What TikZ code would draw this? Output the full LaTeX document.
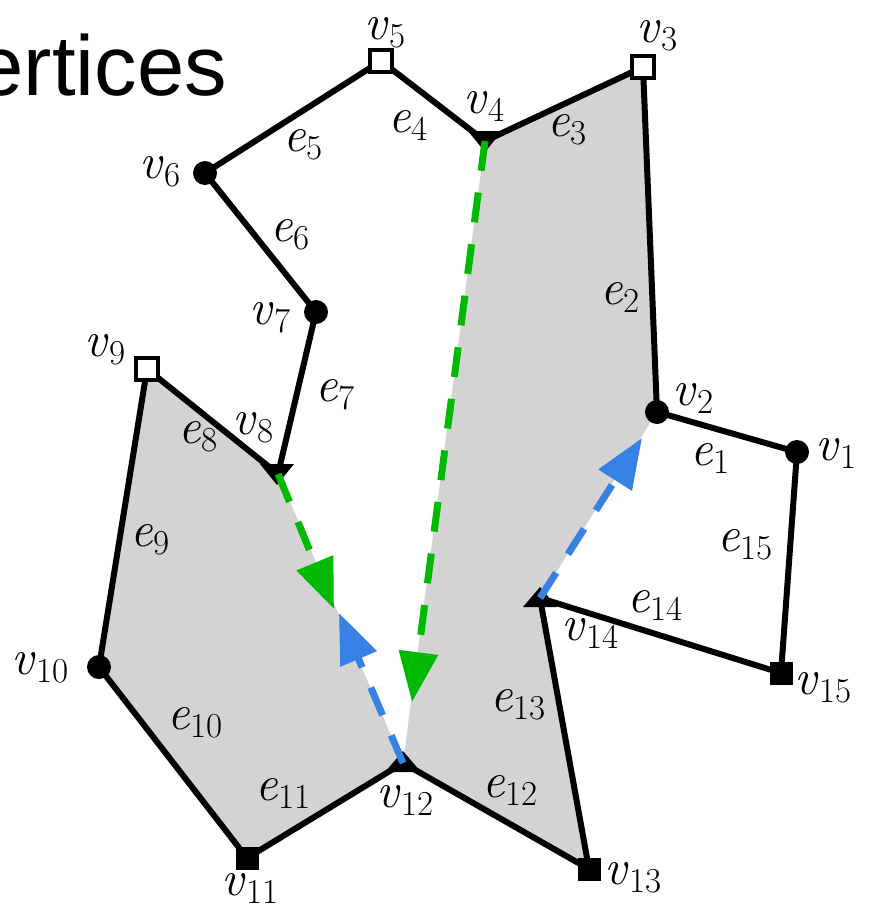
\documentclass[tikz,border=0pt]{standalone}
\usepackage{fontspec}
\newfontfamily\sansf{Liberation Sans}
\usetikzlibrary{arrows.meta}
\definecolor{regiongray}{RGB}{211,211,211}
\definecolor{arrgreen}{RGB}{0,185,0}
\definecolor{arrblue}{RGB}{55,128,228}
\newcommand\lbl[2]{\textit{#1}\kern1pt\raisebox{-8pt}{\fontsize{35}{35}\selectfont #2}}
\tikzset{
  region/.style={fill=regiongray},
  edgeline/.style={line width=6pt, line join=round, line cap=round},
  dotm/.style={circle, fill=black, minimum size=24pt, inner sep=0pt},
  opensq/.style={rectangle, draw=black, line width=4pt, fill=white, minimum size=22pt, inner sep=0pt},
  fillsq/.style={rectangle, fill=black, minimum size=23pt, inner sep=0pt},
  lab/.style={font=\fontsize{50}{50}\selectfont, inner sep=0pt},
  flow/.style={line width=7pt, dash pattern=on 30pt off 22pt, -{Triangle[length=50pt,width=38pt]}},
}
\begin{document}
\begin{tikzpicture}[x=1pt,y=-1pt]
\useasboundingbox (0,0) rectangle (872,916);
% vertices
\coordinate (v1) at (797,452);
\coordinate (v2) at (657,412);
\coordinate (v3) at (643,67);
\coordinate (v4) at (485,141);
\coordinate (v5) at (381,61);
\coordinate (v6) at (205,173);
\coordinate (v7) at (316,312);
\coordinate (v8) at (278,474);
\coordinate (v9) at (147,369);
\coordinate (v10) at (99,667);
\coordinate (v11) at (247,858);
\coordinate (v12) at (403,763);
\coordinate (v13) at (589,869);
\coordinate (v14) at (540,598);
\coordinate (v15) at (781,673);
% arrow tips
\coordinate (ga) at (412,702);
\coordinate (gb) at (334,609);
\coordinate (ba) at (339,613);
\coordinate (bb) at (642,438);

% title fragment
\node[font=\sansf\fontsize{85}{85}\selectfont, anchor=base east, inner sep=0pt] (title) at (227,95) {ertices};

% shaded regions
\fill[region] (v9) -- (v8) -- (v12) -- (v11) -- (v10) -- cycle;
\fill[region] (v4) -- (v3) -- (v2) -- (v14) -- (v13) -- (v12) -- cycle;

% polygon edges
\draw[edgeline] (v1) -- (v2) -- (v3) -- (v4) -- (v5) -- (v6) -- (v7) -- (v8) -- (v9) -- (v10) -- (v11) -- (v12) -- (v13) -- (v14) -- (v15) -- cycle;

% markers
\node[dotm] (m1) at (v1) {};
\node[dotm] (m2) at (v2) {};
\node[opensq] (m3) at (v3) {};
\node[opensq] (m5) at (v5) {};
\node[dotm] (m6) at (v6) {};
\node[dotm] (m7) at (v7) {};
\node[opensq] (m9) at (v9) {};
\node[dotm] (m10) at (v10) {};
\node[fillsq] (m11) at (v11) {};
\node[fillsq] (m13) at (v13) {};
\node[fillsq] (m15) at (v15) {};
\fill (v4) ++(0,11) -- ++(17,-21) -- ++(-34,0) -- cycle;
\fill (v8) ++(-1,11) -- ++(17,-21) -- ++(-34,0) -- cycle;
\fill (v12) ++(0,-12) -- ++(18,21) -- ++(-36,0) -- cycle;
\fill (v14) ++(0,-11) -- ++(17,20) -- ++(-34,0) -- cycle;

% flow arrows
\draw[flow, arrgreen] (v4) -- (ga);
\draw[flow, arrgreen] (v8) -- (gb);
\draw[flow, arrblue] (v12) -- (ba);
\draw[flow, arrblue] (v14) -- (bb);

% vertex labels
\node[lab] (l1) at (836,453) {\lbl{v}{1}};
\node[lab] (l2) at (693,398) {\lbl{v}{2}};
\node[lab] (l3) at (657,36) {\lbl{v}{3}};
\node[lab] (l4) at (484,106) {\lbl{v}{4}};
\node[lab] (l5) at (385,33) {\lbl{v}{5}};
\node[lab] (l6) at (160,172) {\lbl{v}{6}};
\node[lab] (l7) at (270,318) {\lbl{v}{7}};
\node[lab] (l8) at (253,428) {\lbl{v}{8}};
\node[lab] (l9) at (105,350) {\lbl{v}{9}};
\node[lab] (l10) at (40,668) {\lbl{v}{10}};
\node[lab] (l11) at (250,888) {\lbl{v}{11}};
\node[lab] (l12) at (405,800) {\lbl{v}{12}};
\node[lab] (l13) at (633,878) {\lbl{v}{13}};
\node[lab] (l14) at (590,633) {\lbl{v}{14}};
\node[lab] (l15) at (823,688) {\lbl{v}{15}};
% edge labels
\node[lab] (k1) at (710,458) {\lbl{e}{1}};
\node[lab] (k2) at (620,297) {\lbl{e}{2}};
\node[lab] (k3) at (567,130) {\lbl{e}{3}};
\node[lab] (k4) at (408,125) {\lbl{e}{4}};
\node[lab] (k5) at (303,145) {\lbl{e}{5}};
\node[lab] (k6) at (290,235) {\lbl{e}{6}};
\node[lab] (k7) at (335,395) {\lbl{e}{7}};
\node[lab] (k8) at (198,437) {\lbl{e}{8}};
\node[lab] (k9) at (150,540) {\lbl{e}{9}};
\node[lab] (k10) at (195,723) {\lbl{e}{10}};
\node[lab] (k11) at (283,793) {\lbl{e}{11}};
\node[lab] (k12) at (510,790) {\lbl{e}{12}};
\node[lab] (k13) at (518,705) {\lbl{e}{13}};
\node[lab] (k14) at (655,605) {\lbl{e}{14}};
\node[lab] (k15) at (745,545) {\lbl{e}{15}};
\end{tikzpicture}
\end{document}
